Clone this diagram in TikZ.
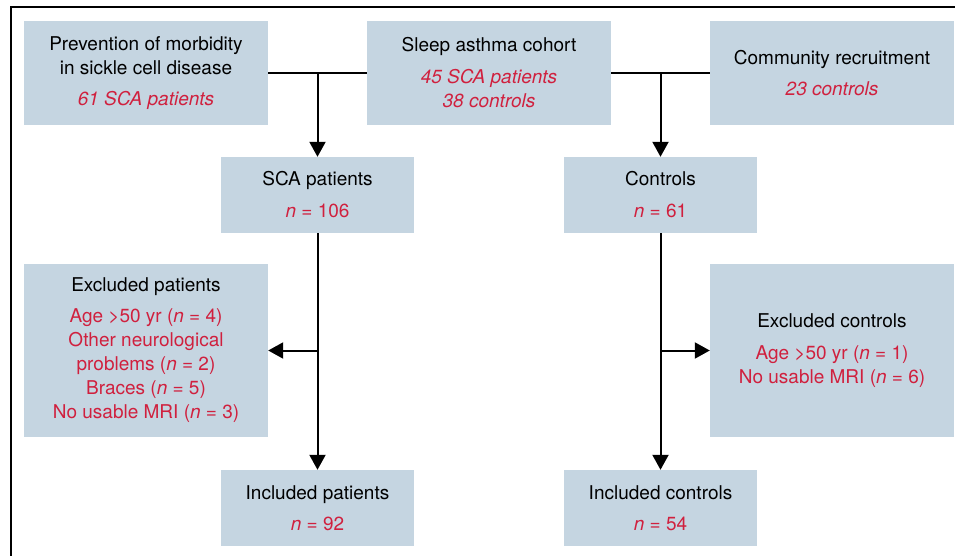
\documentclass[tikz,border=0pt]{standalone}
\usepackage{fontspec}
\setmainfont{TeX Gyre Heros}
\usepackage{xcolor}
\usepackage{tikz}
\usetikzlibrary{arrows.meta}
\usetikzlibrary{positioning}
\definecolor{bleu}{RGB}{197,213,225}
\definecolor{rouge}{RGB}{208,32,62}
\newcommand{\rg}[1]{\textcolor{rouge}{#1}}
\newcommand{\rgit}[1]{\textcolor{rouge}{\textit{#1}}}
\newcommand{\nb}[1]{\textit{n}\;=\;#1}
\tikzstyle{bloc}=[
        rectangle,
        fill=bleu,
        align=center,
        inner sep=0pt,
        font=\fontsize{19}{24}\selectfont
]
\tikzstyle{source}=[bloc,minimum width=244pt,minimum height=104pt]
\tikzstyle{groupe}=[bloc,minimum width=193pt,minimum height=76pt]
\tikzstyle{exclus}=[bloc,minimum width=244pt,minimum height=173pt]
\tikzstyle{trait}=[line width=2pt]
\tikzstyle{suite}=[-{Triangle[length=15pt,width=16pt]},line width=2pt]

\begin{document}
\begin{tikzpicture}[x=1pt,y=-1pt]
\useasboundingbox (0,0) rectangle (955,556);
\draw[trait] (11,556) -- (11,7) -- (955,7);
\node[source] (prev) at (146,73) {Prevention of morbidity\\ in sickle cell disease\\[7pt] \rgit{61 SCA patients}};
\node[source] (sleep) at (489,73) {Sleep asthma cohort\\[8pt] \rgit{45 SCA patients}\\ \rgit{38 controls}};
\node[source] (comm) at (832,73) {Community recruitment\\[7pt] \rgit{23 controls}};
\node[groupe] (sca) at (317.5,195) {SCA patients\\[8pt] \rg{\nb{106}}};
\node[groupe] (ctrl) at (660.5,195) {Controls\\[8pt] \rg{\nb{61}}};
\node[exclus] (exp) at (146,350.5) {Excluded patients\\[7pt] \rg{Age >50 yr (\nb{4})}\\ \rg{Other neurological}\\ \rg{problems (\nb{2})}\\ \rg{Braces (\nb{5})}\\ \rg{No usable MRI (\nb{3})}};
\node[exclus] (exc) at (832,350.5) {Excluded controls\\[8pt] \rg{Age >50 yr (\nb{1})}\\ \rg{No usable MRI (\nb{6})}};
\node[groupe] (incp) at (317.5,508) {Included patients\\[7pt] \rg{\nb{92}}};
\node[groupe] (incc) at (660.5,508) {Included controls\\[7pt] \rg{\nb{54}}};
%Drawing Edges
\draw[trait] (prev) -- (sleep);
\draw[trait] (sleep) -- (comm);
\draw[suite] (sca.north |- prev.east) -- (sca);
\draw[suite] (ctrl.north |- comm.west) -- (ctrl);
\draw[suite] (sca) -- (incp);
\draw[suite] (ctrl) -- (incc);
\draw[suite] (sca.south |- exp.east) -- (exp);
\draw[suite] (ctrl.south |- exc.west) -- (exc);
\end{tikzpicture}
\end{document}
